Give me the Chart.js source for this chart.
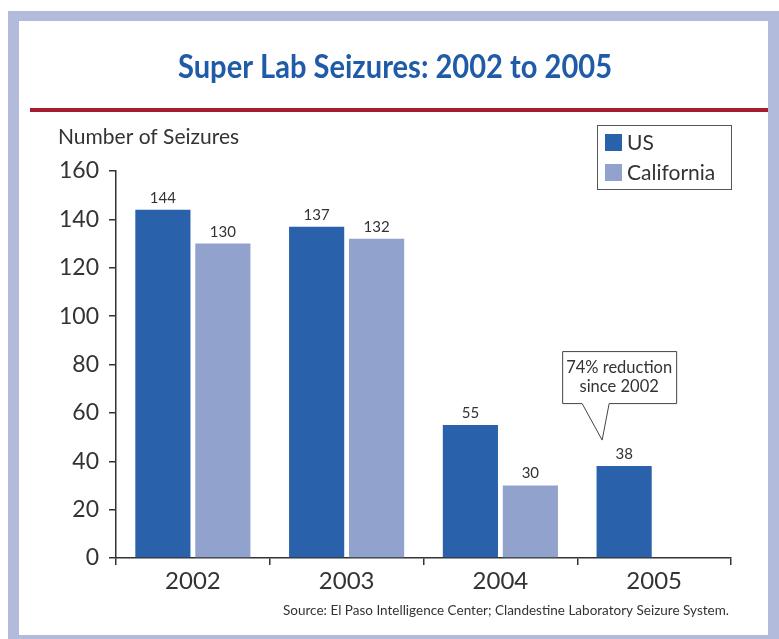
<!DOCTYPE html>
<html><head><meta charset="utf-8">
<script src="https://cdn.jsdelivr.net/npm/chart.js@4.4.1/dist/chart.umd.min.js"></script>
<style>html,body{margin:0;padding:0;background:#fff;}#wrap{width:779px;height:639px;}</style>
</head><body><div id="wrap"><canvas id="c" width="779" height="639"></canvas></div>
<script>
const categories = ['2002', '2003', '2004', '2005'];
const usValues = [144, 137, 55, 38];
const californiaValues = [130, 132, 30, null];
const yTickValues = [0, 20, 40, 60, 80, 100, 120, 140, 160];
const seriesNames = ['US', 'California'];
const titleText = 'Super Lab Seizures: 2002 to 2005';
const yAxisTitle = 'Number of Seizures';
const calloutLines = ['74% reduction', 'since 2002'];
const sourceText = 'Source: El Paso Intelligence Center; Clandestine Laboratory Seizure System.';

const BODY = 'Lato, "Open Sans", sans-serif';
const TXT = '#333333';
const US_COL = '#2962aa';
const CA_COL = '#91a3cd';

function fitText(ctx, text, x, y, width, align) {
  const w = ctx.measureText(text).width;
  const sx = width / w;
  ctx.save();
  let startX = x;
  if (align === 'center') startX = x - width / 2;
  else if (align === 'right') startX = x - width;
  ctx.translate(startX, y);
  ctx.scale(sx, 1);
  ctx.textAlign = 'left';
  ctx.fillText(text, 0, 0);
  ctx.restore();
}

const decor = {
  id: 'decor',
  beforeDraw(chart) {
    const ctx = chart.ctx;
    ctx.save();
    // frame
    ctx.fillStyle = '#b2bbdb';
    ctx.fillRect(8, 11, 779 - 8, 639 - 11);
    ctx.fillStyle = '#ffffff';
    ctx.fillRect(19, 21, 768 - 19, 635 - 21);
    // title
    ctx.fillStyle = '#1f5ba7';
    ctx.font = 'bold 32px ' + BODY;
    ctx.textBaseline = 'middle';
    fitText(ctx, titleText, 395, 68, 434, 'center');
    // red rule
    ctx.fillStyle = '#a51b30';
    ctx.fillRect(30, 108, 768 - 30, 4);
    // y axis title
    ctx.fillStyle = TXT;
    ctx.font = '21px ' + BODY;
    ctx.textAlign = 'left';
    ctx.textBaseline = 'middle';
    ctx.fillText(yAxisTitle, 58, 137);
    // legend
    const lx = 597, ly = 125, lw = 134, lh = 64;
    ctx.strokeStyle = '#555';
    ctx.lineWidth = 1;
    ctx.strokeRect(lx + 0.5, ly + 0.5, lw, lh);
    chart.data.datasets.forEach((ds, i) => {
      const y = 134 + i * 30;
      ctx.fillStyle = ds.backgroundColor;
      ctx.fillRect(605, y, 17, 17);
      ctx.fillStyle = TXT;
      ctx.font = '21px ' + BODY;
      ctx.textAlign = 'left';
      ctx.textBaseline = 'middle';
      ctx.fillText(ds.label, 627, y + 9);
    });
    // source
    ctx.fillStyle = TXT;
    ctx.font = '14px ' + BODY;
    ctx.textBaseline = 'middle';
    fitText(ctx, sourceText, 729, 610, 446, 'right');
    ctx.restore();
  },
  afterDatasetsDraw(chart) {
    const ctx = chart.ctx;
    ctx.save();
    ctx.fillStyle = TXT;
    ctx.font = '15px ' + BODY;
    ctx.textAlign = 'center';
    ctx.textBaseline = 'alphabetic';
    chart.data.datasets.forEach((ds, i) => {
      const meta = chart.getDatasetMeta(i);
      meta.data.forEach((el, j) => {
        const v = ds.data[j];
        if (v === null || v === undefined) return;
        ctx.fillText(String(v), el.x, el.y - 7);
      });
    });
    // callout anchored to last US bar
    const el = chart.getDatasetMeta(0).data[categories.length - 1];
    const bx = el.x, by = el.y;
    const left = bx - 62, right = bx + 52, top = by - 115, bottom = by - 63;
    const tipX = bx - 22, tipY = by - 26;
    ctx.beginPath();
    ctx.moveTo(left + 0.5, top + 0.5);
    ctx.lineTo(right + 0.5, top + 0.5);
    ctx.lineTo(right + 0.5, bottom + 0.5);
    ctx.lineTo(bx - 15, bottom + 0.5);
    ctx.lineTo(tipX, tipY);
    ctx.lineTo(bx - 42, bottom + 0.5);
    ctx.lineTo(left + 0.5, bottom + 0.5);
    ctx.closePath();
    ctx.fillStyle = '#fff';
    ctx.fill();
    ctx.strokeStyle = '#444';
    ctx.lineWidth = 1;
    ctx.stroke();
    ctx.fillStyle = TXT;
    ctx.font = '16.5px ' + BODY;
    ctx.textAlign = 'center';
    ctx.textBaseline = 'middle';
    const cx = (left + right) / 2;
    ctx.fillText(calloutLines[0], cx, top + 17);
    ctx.fillText(calloutLines[1], cx, top + 36);
    ctx.restore();
  }
};

new Chart(document.getElementById('c'), {
  type: 'bar',
  data: {
    labels: categories,
    datasets: [
      { label: seriesNames[0], data: usValues, backgroundColor: US_COL, borderWidth: 0,
        categoryPercentage: 0.78, barPercentage: 0.92 },
      { label: seriesNames[1], data: californiaValues, backgroundColor: CA_COL, borderWidth: 0,
        categoryPercentage: 0.78, barPercentage: 0.92 }
    ]
  },
  options: {
    responsive: false,
    devicePixelRatio: 1,
    animation: false,
    layout: { padding: { top: 171, right: 48, bottom: 41, left: 0 } },
    plugins: { legend: { display: false }, title: { display: false }, tooltip: { enabled: false } },
    scales: {
      x: {
        offset: true,
        grid: { display: true, offset: true, drawOnChartArea: false, drawTicks: true, tickLength: 7, color: '#333', lineWidth: 1.5 },
        border: { display: true, color: '#333', width: 1.5 },
        ticks: { color: TXT, font: { family: BODY, size: 24 }, padding: 2 },
        afterFit(s) { s.height = 40; }
      },
      y: {
        min: 0, max: 160,
        afterBuildTicks(s) { s.ticks = yTickValues.map(v => ({ value: v })); },
        grid: { display: true, drawOnChartArea: false, drawTicks: true, tickLength: 7, color: '#333', lineWidth: 1.5 },
        border: { display: true, color: '#333', width: 1.5 },
        ticks: { color: TXT, font: { family: BODY, size: 23 }, padding: 10 },
        afterFit(s) { s.width = 116; }
      }
    }
  },
  plugins: [decor]
});
</script>
</body></html>
